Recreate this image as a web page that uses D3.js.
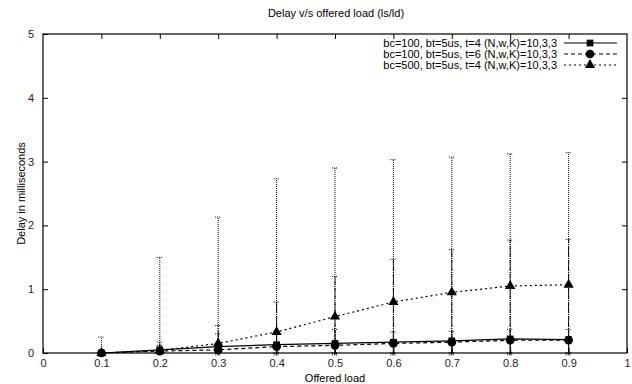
<!DOCTYPE html>
<html>
<head>
<meta charset="utf-8">
<script src="https://cdn.jsdelivr.net/npm/d3@7"></script>
<style>
  body { margin: 0; background: #fff; }
  text { font-family: "Liberation Sans", Arial, sans-serif; }
</style>
</head>
<body>
<div id="chart"></div>
<script>
// offered load values
var loads = [0.1, 0.2, 0.3, 0.4, 0.5, 0.6, 0.7, 0.8, 0.9];

// mean delay (ms) per series
var delayT4 = [0.0, 0.05, 0.10, 0.13, 0.15, 0.17, 0.19, 0.22, 0.21];
var delayT6 = [0.0, 0.03, 0.05, 0.10, 0.12, 0.15, 0.17, 0.20, 0.20];
var delayBc500 = [0.0, 0.04, 0.15, 0.33, 0.57, 0.80, 0.95, 1.05, 1.07];

// error bar upper ends
var upperT4 = [0.02, 0.12, 0.30, 0.33, 0.37, 0.33, 0.34, 0.37, 0.37];
var upperT6 = [0.02, 0.17, 0.43, 0.80, 1.20, 1.47, 1.62, 1.77, 1.78];
var upperBc500 = [0.25, 1.50, 2.13, 2.73, 2.90, 3.03, 3.07, 3.12, 3.14];

// error bar lower ends
var lowerT4 = [0, 0, 0, 0, 0, 0, 0, 0, 0];
var lowerT6 = [0, -0.02, -0.03, -0.03, -0.03, -0.03, -0.03, -0.03, -0.03];
var lowerBc500 = [0, 0, 0, 0, 0, 0, 0, 0, 0];

var legendLabels = [
  "bc=100, bt=5us, t=4 (N,w,K)=10,3,3",
  "bc=100, bt=5us, t=6 (N,w,K)=10,3,3",
  "bc=500, bt=5us, t=4 (N,w,K)=10,3,3"
];

var xTicks = [0, 0.1, 0.2, 0.3, 0.4, 0.5, 0.6, 0.7, 0.8, 0.9, 1];
var yTicks = [0, 1, 2, 3, 4, 5];

var series = [
  {name: legendLabels[0], values: delayT4, upper: upperT4, lower: lowerT4, dash: null, barDash: "3,1", symbol: d3.symbolSquare, size: 45},
  {name: legendLabels[1], values: delayT6, upper: upperT6, lower: lowerT6, dash: "4,3", barDash: "4,1,1,1", symbol: d3.symbolCircle, size: 60},
  {name: legendLabels[2], values: delayBc500, upper: upperBc500, lower: lowerBc500, dash: "2,3", barDash: "1,1", symbol: d3.symbolTriangle, size: 45}
];

var width = 632, height = 384;
var margin = {top: 34, right: 5, bottom: 31, left: 43};
var w = width - margin.left - margin.right,
    h = height - margin.top - margin.bottom;

var svg = d3.select("#chart").append("svg")
    .attr("width", width)
    .attr("height", height);

var g = svg.append("g")
    .attr("transform", "translate(" + margin.left + "," + margin.top + ")");

var x = d3.scaleLinear().domain([0, 1]).range([0, w]);
var y = d3.scaleLinear().domain([0, 5]).range([h, 0]);

// axes with inward ticks, mirrored on top / right
var tickLen = 5;
g.append("g")
    .attr("transform", "translate(0," + h + ")")
    .call(d3.axisBottom(x).tickValues(xTicks).tickFormat(d3.format("")).tickSizeInner(-tickLen).tickSizeOuter(0).tickPadding(6))
    .call(function(a) { a.select(".domain").remove(); a.selectAll("text").attr("font-size", 11).attr("fill", "#222"); });
g.append("g")
    .call(d3.axisTop(x).tickValues(xTicks.slice(1, -1)).tickFormat("").tickSizeInner(-tickLen).tickSizeOuter(0))
    .call(function(a) { a.select(".domain").remove(); });
g.append("g")
    .call(d3.axisLeft(y).tickValues(yTicks).tickFormat(d3.format("d")).tickSizeInner(-tickLen).tickSizeOuter(0).tickPadding(9))
    .call(function(a) { a.select(".domain").remove(); a.selectAll("text").attr("font-size", 11).attr("fill", "#222"); });
g.append("g")
    .attr("transform", "translate(" + w + ",0)")
    .call(d3.axisRight(y).tickValues(yTicks.slice(1, -1)).tickFormat("").tickSizeInner(-tickLen).tickSizeOuter(0))
    .call(function(a) { a.select(".domain").remove(); });

g.append("rect")
    .attr("width", w).attr("height", h)
    .attr("fill", "none").attr("stroke", "#000").attr("stroke-width", 1.2);

// error bars
series.forEach(function(s) {
  var bars = g.append("g");
  loads.forEach(function(l, i) {
    bars.append("line")
      .attr("x1", x(l)).attr("x2", x(l))
      .attr("y1", y(s.lower[i])).attr("y2", y(s.upper[i]))
      .attr("stroke", "#000").attr("stroke-width", 1)
      .attr("stroke-dasharray", s.barDash);
    [s.lower[i], s.upper[i]].forEach(function(v) {
      bars.append("line")
        .attr("x1", x(l) - 3).attr("x2", x(l) + 3)
        .attr("y1", y(v)).attr("y2", y(v))
        .attr("stroke", "#000").attr("stroke-width", 1)
        .attr("stroke-dasharray", "1,1");
    });
  });
});

// lines and markers
var line = d3.line()
    .x(function(d, i) { return x(loads[i]); })
    .y(function(d) { return y(d); });

series.forEach(function(s) {
  g.append("path")
    .datum(s.values)
    .attr("fill", "none")
    .attr("stroke", "#000")
    .attr("stroke-width", 1.2)
    .attr("stroke-dasharray", s.dash)
    .attr("d", line);
  g.selectAll(null)
    .data(s.values)
    .enter().append("path")
      .attr("transform", function(d, i) { return "translate(" + x(loads[i]) + "," + y(d) + ")"; })
      .attr("d", d3.symbol().type(s.symbol).size(s.size))
      .attr("fill", "#000");
});

// legend
var legend = svg.append("g");
series.forEach(function(s, i) {
  var ly = 43 + i * 11;
  legend.append("text")
    .attr("x", 557).attr("y", ly + 4)
    .attr("text-anchor", "end")
    .attr("font-size", 11)
    .text(s.name);
  legend.append("line")
    .attr("x1", 564).attr("x2", 617)
    .attr("y1", ly).attr("y2", ly)
    .attr("stroke", "#000").attr("stroke-width", 1.2)
    .attr("stroke-dasharray", s.dash);
  legend.append("path")
    .attr("transform", "translate(590," + ly + ")")
    .attr("d", d3.symbol().type(s.symbol).size(s.size))
    .attr("fill", "#000");
});

// title and axis labels
svg.append("text")
    .attr("x", 336).attr("y", 17)
    .attr("text-anchor", "middle")
    .attr("font-size", 11)
    .text("Delay v/s offered load (ls/ld)");

svg.append("text")
    .attr("x", 335).attr("y", 382)
    .attr("text-anchor", "middle")
    .attr("font-size", 11)
    .text("Offered load");

svg.append("text")
    .attr("transform", "translate(25," + (margin.top + h / 2) + ") rotate(-90)")
    .attr("text-anchor", "middle")
    .attr("font-size", 11)
    .text("Delay in milliseconds");
</script>
</body>
</html>
